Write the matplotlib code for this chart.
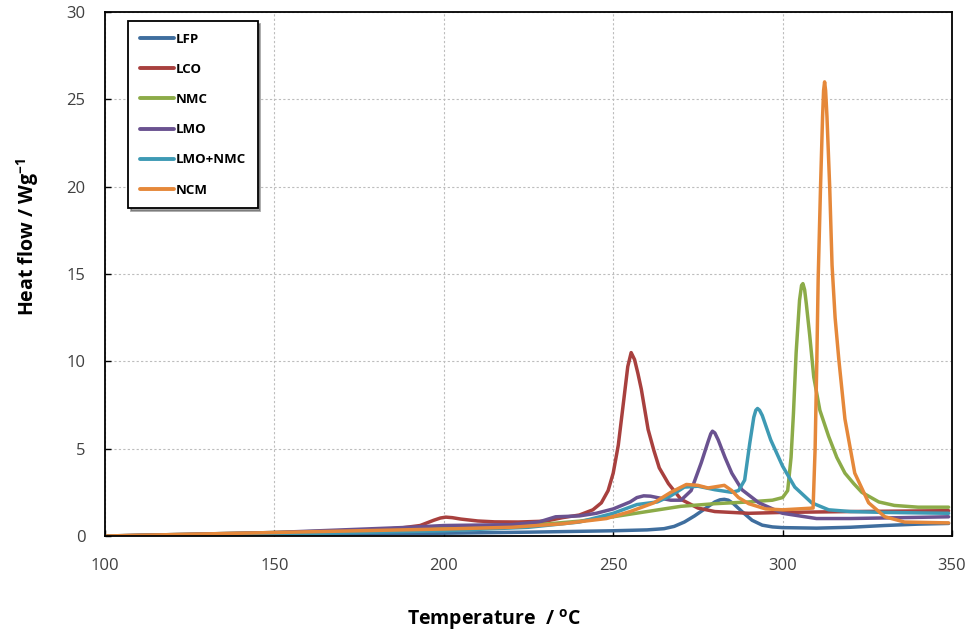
import matplotlib
matplotlib.use("Agg")
import matplotlib.pyplot as plt

# -----------------------------------
# DATA
# -----------------------------------

lfp_t = [100, 125, 150, 175, 200, 225, 250, 260, 265, 268, 271, 274, 277, 280,
         281.5, 282.8, 284, 285.5, 288, 291, 294, 297, 300, 310, 320, 330, 340, 349]
lfp_v = [0, 0.04, 0.08, 0.12, 0.16, 0.22, 0.3, 0.35, 0.42, 0.55, 0.8, 1.15, 1.55, 1.95,
         2.07, 2.1, 2.05, 1.85, 1.4, 0.9, 0.62, 0.52, 0.48, 0.45, 0.5, 0.6, 0.68, 0.72]

lco_t = [100, 150, 180, 187, 193, 197, 199, 200.6, 202.5, 205, 210, 215, 222, 230,
         235, 240, 244, 246.5, 248.5, 250, 251.5, 253, 254.3, 255.3, 256.3, 257.3,
         258.3, 260.3, 262, 263.6, 266.3, 270, 275, 280, 290, 300, 320, 349]
lco_v = [0, 0.15, 0.35, 0.45, 0.6, 0.9, 1.03, 1.08, 1.05, 0.97, 0.86, 0.81, 0.8, 0.85,
         1.05, 1.2, 1.5, 1.9, 2.6, 3.6, 5.2, 7.6, 9.7, 10.5, 10.1, 9.3,
         8.4, 6.1, 4.9, 3.9, 3.0, 2.1, 1.6, 1.4, 1.3, 1.35, 1.4, 1.45]

nmc_t = [100, 150, 200, 225, 240, 250, 260, 270, 280, 290, 297, 300, 301.5, 302.5,
         303.2, 304, 305, 305.6, 306, 306.5, 307, 308, 309.2, 311, 313.6, 316, 318.4,
         321, 323.4, 328.4, 333, 340, 349]
nmc_v = [0, 0.2, 0.45, 0.6, 0.85, 1.1, 1.4, 1.7, 1.85, 1.95, 2.05, 2.2, 2.6, 4.5,
         7.0, 10.5, 13.5, 14.35, 14.45, 14.1, 13.3, 11.5, 9.1, 7.2, 5.7, 4.5, 3.6,
         3.0, 2.5, 1.95, 1.75, 1.65, 1.65]

lmo_t = [100, 150, 190, 200, 220, 228, 233, 240, 245, 250, 255, 257, 259, 261, 263,
         267, 270, 273, 276, 278, 278.8, 279.3, 280, 281, 283, 285, 288, 293, 300,
         310, 320, 335, 349]
lmo_v = [0, 0.2, 0.5, 0.6, 0.65, 0.8, 1.1, 1.15, 1.3, 1.55, 1.95, 2.2, 2.3, 2.28, 2.2,
         2.05, 2.05, 2.6, 4.2, 5.4, 5.85, 6.0, 5.9, 5.5, 4.5, 3.6, 2.65, 1.9, 1.3,
         1.0, 1.0, 1.05, 1.1]

mix_t = [100, 150, 200, 225, 240, 250, 257, 263, 267, 271, 275, 280, 285, 287,
         288.8, 290.3, 291.5, 292.1, 292.6, 293.2, 294, 296.5, 300, 303.6, 308.6,
         313.6, 320, 330, 349]
mix_v = [0, 0.1, 0.3, 0.5, 0.8, 1.3, 1.8, 1.95, 2.3, 2.8, 2.85, 2.65, 2.5, 2.6,
         3.2, 5.3, 6.8, 7.2, 7.3, 7.2, 6.9, 5.5, 4.0, 2.8, 1.9,
         1.5, 1.4, 1.35, 1.3]

ncm_t = [100, 150, 200, 220, 235, 248, 255, 262, 267, 271.6, 275, 278, 282.8, 285,
         287, 290, 295, 300, 309, 309.6, 310.1, 310.5, 311.2, 311.8, 312.1, 312.4,
         312.7, 313.1, 313.9, 314.6, 315.5, 316.6, 318.4, 321.3, 325.4, 330.2, 336, 349]
ncm_v = [0, 0.2, 0.4, 0.5, 0.7, 1.0, 1.4, 1.9, 2.5, 2.95, 2.9, 2.75, 2.9, 2.6,
         2.2, 1.85, 1.55, 1.5, 1.6, 5.0, 10.0, 14.7, 20.0, 24.0, 25.5, 26.0,
         25.5, 24.0, 20.0, 15.5, 12.5, 10.1, 6.7, 3.6, 1.9, 1.1, 0.8, 0.75]

series = [
    ("LFP", lfp_t, lfp_v, "#3F6E9E"),
    ("LCO", lco_t, lco_v, "#A8403E"),
    ("NMC", nmc_t, nmc_v, "#8CAB48"),
    ("LMO", lmo_t, lmo_v, "#6A5290"),
    ("LMO+NMC", mix_t, mix_v, "#3E9AB4"),
    ("NCM", ncm_t, ncm_v, "#E5883A"),
]

x_ticks = [100, 150, 200, 250, 300, 350]
y_ticks = [0, 5, 10, 15, 20, 25, 30]

# -----------------------------------
# PLOT
# -----------------------------------

plt.rcParams["font.family"] = ["Open Sans", "DejaVu Sans"]
plt.rcParams["mathtext.default"] = "regular"

fig = plt.figure(figsize=(9.79, 6.41), dpi=100)
ax = fig.add_axes([0.1073, 0.1638, 0.8651, 0.8175])

for name, t, v, color in series:
    ax.plot(t, v, color=color, linewidth=2.5, label=name,
            solid_capstyle="round", solid_joinstyle="round")

ax.set_xlim(100, 350)
ax.set_ylim(0, 30)
ax.set_xticks(x_ticks)
ax.set_yticks(y_ticks)

ax.grid(True, linestyle=(0, (2, 2)), color="#bdbdbd", linewidth=0.8)
ax.set_axisbelow(True)

for side in ax.spines.values():
    side.set_color("black")
    side.set_linewidth(1.3)

ax.tick_params(axis="both", direction="in", length=4, width=1,
               labelsize=12, labelcolor="#404040")
ax.tick_params(axis="x", pad=16)
ax.tick_params(axis="y", pad=14)

fig.text(0.505, 0.034, "Temperature  / $^{o}$C", ha="center", va="center",
         fontsize=14, fontweight="bold")
fig.text(0.028, 0.63, "Heat flow / Wg$^{-1}$", ha="center", va="center",
         rotation=90, fontsize=14, fontweight="bold")

leg = ax.legend(loc="upper left", bbox_to_anchor=(0.027, 0.983),
                frameon=True, fancybox=False, shadow=True,
                prop={"weight": "bold", "size": 9.5},
                handlelength=2.6, handletextpad=0.1, labelspacing=1.3,
                borderpad=0.9, borderaxespad=0)
leg.get_frame().set_edgecolor("black")
leg.get_frame().set_linewidth(1.3)
for line in leg.get_lines():
    line.set_linewidth(2.8)

fig.savefig("out.png", dpi=100)
